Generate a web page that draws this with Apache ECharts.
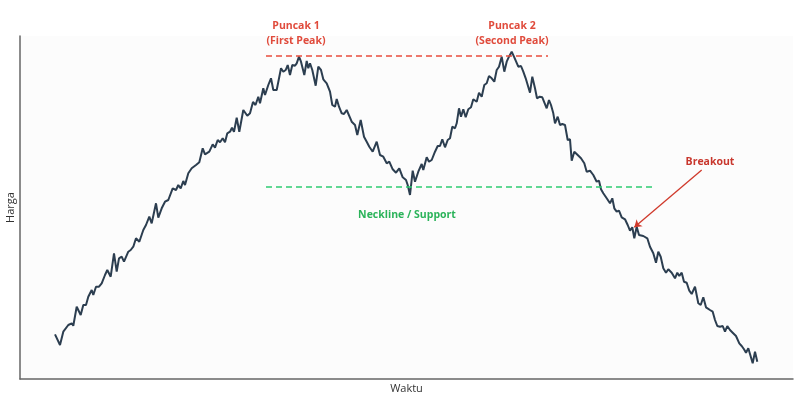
<!DOCTYPE html>
<html lang="id">
<head>
<meta charset="UTF-8">
<title>Pola Double Top</title>
<script src="https://cdn.jsdelivr.net/npm/echarts@6/dist/echarts.min.js"></script>
<style>
  html, body { margin: 0; padding: 0; background: #fff; }
  #chart { width: 800px; height: 400px; }
</style>
</head>
<body>
<div id="chart"></div>
<script>
// waktu (sumbu x) dan harga (sumbu y)
const waktu = [
  0, 5, 8.3, 13.3, 16.7, 18.3, 21.7, 25.7, 28.3, 31,
  33.3, 36.7, 38.3, 41, 44, 46.7, 50, 52.3, 55.7, 59,
  61.7, 64, 66.7, 69, 73.3, 75.7, 78.3, 81, 84.3, 88.3,
  91, 94.3, 96.7, 101, 103.3, 106.7, 110, 113.3, 117.7, 121,
  123.3, 125.7, 128.3, 130, 133.3, 136.7, 141, 144.3, 147.7, 150,
  154.3, 157.7, 160, 162.7, 165, 167.7, 170, 172.3, 175, 177,
  179, 181.7, 184.3, 188.3, 192.3, 195, 198, 200.5, 203.3, 205,
  208.3, 210, 213.3, 216, 218.3, 221.7, 226, 228.3, 230.7, 232.7,
  235, 237.3, 240, 241.7, 244, 246, 249.3, 251.7, 253.3, 255,
  257.3, 260.7, 263.3, 266, 268.3, 271.7, 275, 277.3, 280, 281.7,
  284, 286.7, 289, 291.7, 296.7, 300, 302.3, 305.7, 309, 311.7,
  314.3, 317.7, 321.7, 325, 328.3, 331.7, 334.3, 337.7, 341, 344.3,
  347.7, 351, 352.7, 355, 357.7, 360, 363.3, 366.7, 368.3, 371.7,
  374, 376.7, 380, 382.7, 385, 387.3, 390, 392.7, 395, 397.3,
  400, 401.7, 404, 406, 408.3, 410.7, 413.3, 416, 418.3, 421.7,
  424, 426.7, 429.3, 431.7, 434, 436.7, 439.3, 441.7, 444, 446.7,
  449.3, 451.7, 454, 456.7, 459.3, 463.3, 466, 468.3, 470.7, 472.7,
  475, 477.3, 480, 482, 484.7, 487.3, 489.3, 491.7, 494, 496,
  498.3, 500, 502.7, 505, 507.3, 510, 512.7, 515, 516.7, 519.3,
  522.7, 526, 529.3, 531.7, 535, 538.3, 541.7, 544, 546, 548.3,
  551.7, 555, 557.3, 559.3, 561.7, 564, 566.7, 570, 572.7, 575,
  577.3, 579.3, 581.7, 584, 588.3, 592.3, 595, 598.3, 601, 603.3,
  605.7, 608.3, 611, 613.3, 616.7, 620, 622.3, 624.3, 626.7, 629,
  631.7, 634.3, 636.7, 640, 643.3, 645.7, 648.3, 651, 655, 657.7,
  660, 662.3, 665, 667.7, 670, 672.3, 675, 677.7, 681, 684.3,
  686.7, 689, 691, 693.3, 695, 697.7, 700, 702.3
];
const harga = [
  44.7, 34, 47.3, 54, 55.7, 53.3, 72.3, 64, 74, 74,
  82.3, 89, 84, 92.3, 92.3, 95.7, 104, 109, 102.3, 125.7,
  107.3, 120.7, 122.3, 117.3, 127.3, 129, 132.3, 140.7, 137.3, 149,
  154, 162.3, 155.7, 175.7, 161.3, 170.7, 177.3, 179, 190.7, 189,
  194, 190.7, 198, 194, 205.7, 210.7, 214, 216.7, 230.7, 224.7,
  227.3, 234.7, 231.3, 239, 236.7, 240.7, 236.7, 245.7, 247.3, 251.3,
  247.3, 261.3, 247.3, 269, 263.3, 265.7, 277, 274, 282.3, 275.7,
  290.7, 284, 294, 300.7, 289, 289, 310.7, 307.3, 309, 314,
  304, 314, 313.3, 315.7, 322.3, 317.3, 304, 318, 310.7, 315.7,
  309, 293.3, 312.3, 309, 299.7, 295.7, 287.3, 274, 272.3, 280,
  272.3, 265.7, 265, 269, 257.3, 254, 244, 259, 242.3, 237.3,
  232.3, 227.3, 237.3, 224, 222.3, 215.7, 217.3, 209.7, 206.3, 210.7,
  201.7, 199, 194, 184, 208.3, 197.3, 207.3, 215, 209, 221.7,
  217.3, 219, 227.3, 233, 233, 239.7, 231.7, 239, 240.7, 252.3,
  250.7, 255.7, 270.7, 262.3, 269.7, 261.7, 269.7, 271.7, 279.7, 277.3,
  286.3, 282.3, 294, 295.7, 303, 300.7, 297.3, 309, 312.3, 322.3,
  307.3, 317.3, 322.3, 327.3, 321.7, 312.3, 313, 307.3, 300.7, 299.7,
  286.3, 302.3, 290.7, 280.7, 282.3, 281.7, 283, 270.7, 279, 274,
  265.7, 255.7, 262.3, 254, 255, 254, 239, 239.7, 218.3, 227.3,
  224, 220.7, 215.7, 207.3, 208.3, 204, 197.3, 198.3, 189.7, 185.7,
  180.7, 175.7, 180.7, 170.7, 167.3, 168.3, 161.7, 159.7, 154, 148.3,
  151.7, 140.7, 152.3, 144, 143, 140.7, 132.3, 125.7, 116.3, 127.3,
  122.3, 110.7, 106.3, 109.7, 106.3, 100.7, 106.3, 103, 106.3, 97.3,
  96.3, 88.3, 85, 92.3, 75.7, 74, 81.7, 71.7, 69, 67.3,
  59, 53, 52.3, 53, 47.3, 53, 49, 46.3, 43, 35.7,
  33, 29.7, 26.3, 30.7, 25, 15.7, 27.3, 17.3
];

// garis bantu pola
const levelPuncak = 323;
const rentangPuncak = [211, 493];
const levelNeckline = 192;
const rentangNeckline = [211, 597];
const panahBreakout = [[646.7, 209], [579.3, 151.7]];

// teks anotasi: [teks, waktu, harga, warna]
const catatan = [
  ['Puncak 1\n(First Peak)', 241, 345.5, '#e04b3c'],
  ['Puncak 2\n(Second Peak)', 457, 345.5, '#e04b3c'],
  ['Neckline / Support', 352, 164, '#2bb35a'],
  ['Breakout', 655, 217, '#c8372d']
];

const chart = echarts.init(document.getElementById('chart'));

const axisStyle = {
  nameLocation: 'middle',
  nameTextStyle: { fontFamily: 'Open Sans', fontSize: 11, color: '#333' },
  axisLine: { show: true, onZero: false, lineStyle: { color: '#666', width: 1.5 } },
  axisTick: { show: false },
  axisLabel: { show: false },
  splitLine: { show: false }
};

chart.setOption({
  animation: false,
  backgroundColor: '#fff',
  grid: {
    left: 20, right: 7, top: 36, bottom: 21,
    show: true, backgroundColor: '#fcfcfc', borderWidth: 0,
    outerBoundsMode: 'none'
  },
  xAxis: Object.assign({ type: 'value', min: -35, max: 738, name: 'Waktu', nameGap: 4 }, axisStyle),
  yAxis: Object.assign({ type: 'value', min: 0, max: 343, name: 'Harga', nameGap: 4 }, axisStyle),
  series: [{
    type: 'line',
    data: waktu.map((t, i) => [t, harga[i]]),
    showSymbol: false,
    symbol: 'none',
    lineStyle: { color: '#2c3e50', width: 2 },
    z: 3,
    markLine: {
      silent: true,
      symbol: 'none',
      label: { show: false },
      data: [
        [
          { coord: [rentangPuncak[0], levelPuncak], lineStyle: { color: '#e74c3c', width: 1.5, type: [6, 4] } },
          { coord: [rentangPuncak[1], levelPuncak] }
        ],
        [
          { coord: [rentangNeckline[0], levelNeckline], lineStyle: { color: '#2ecc71', width: 1.5, type: [6, 4] } },
          { coord: [rentangNeckline[1], levelNeckline] }
        ],
        [
          { coord: panahBreakout[0], symbol: 'none', lineStyle: { color: '#d0392b', width: 1.3, type: 'solid' } },
          { coord: panahBreakout[1], symbol: 'arrow', symbolSize: 7 }
        ]
      ]
    }
  }]
});

chart.setOption({
  graphic: catatan.map(c => {
    const p = chart.convertToPixel({ gridIndex: 0 }, [c[1], c[2]]);
    return {
      type: 'text',
      x: p[0],
      y: p[1],
      style: {
        text: c[0],
        fill: c[3],
        fontFamily: 'Open Sans',
        fontSize: 10.5,
        fontWeight: 'bold',
        lineHeight: 15,
        align: 'center',
        verticalAlign: 'middle'
      }
    };
  })
});
</script>
</body>
</html>
